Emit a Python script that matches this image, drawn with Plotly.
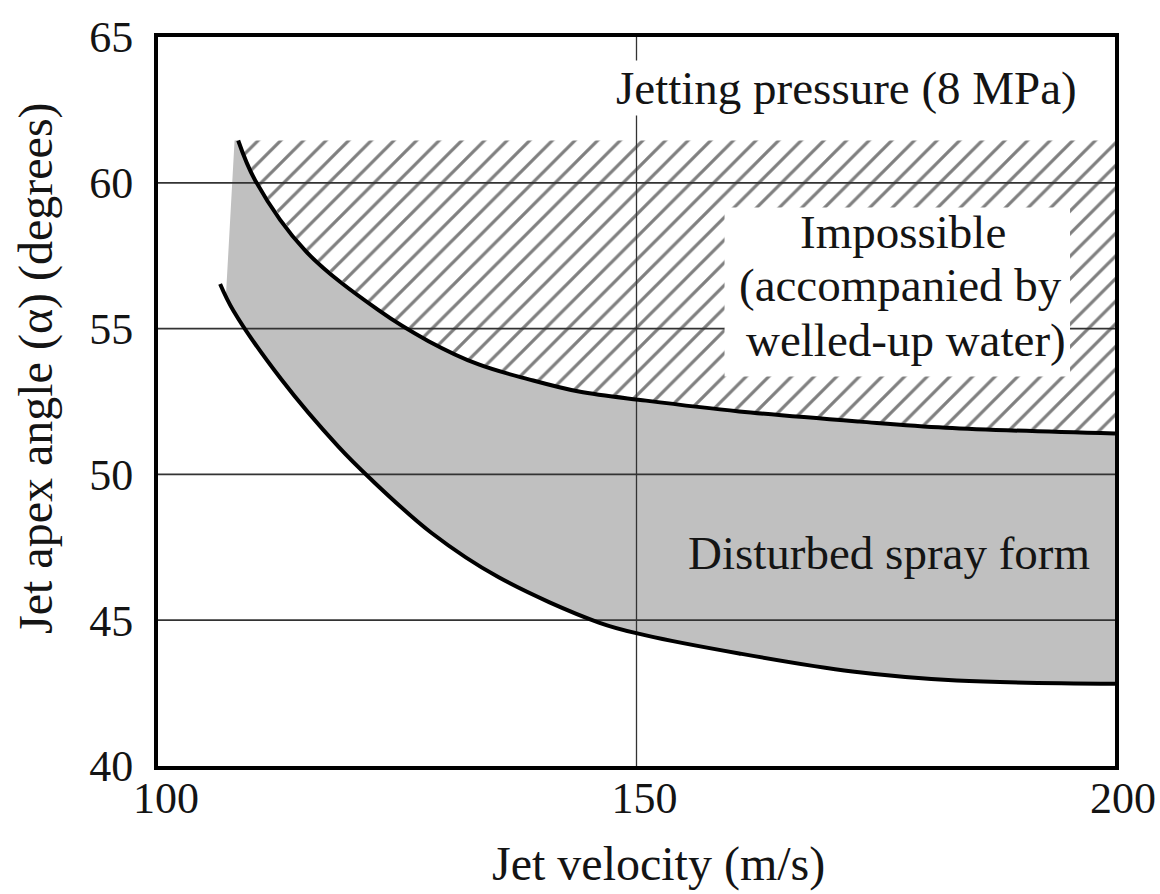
import plotly.graph_objects as go

# ---- data ----
x_ticks = [100, 150, 200]
y_ticks = [40, 45, 50, 55, 60, 65]
grid_y = [45, 50, 55, 60]
grid_x = [150]

# upper boundary (limit of welled-up water)
upper_x = [108.38, 110.16, 115.39, 123.04, 128.27, 133.51, 138.74, 143.98, 150.99, 160.73, 173.30, 182.30, 200.0]
upper_y = [61.45, 60.08, 57.67, 55.63, 54.57, 53.77, 53.26, 52.84, 52.53, 52.16, 51.81, 51.60, 51.40]

# lower boundary (disturbed spray form limit)
lower_x = [106.49, 107.85, 112.88, 118.85, 122.20, 128.59, 135.60, 146.07, 150.99, 160.73, 172.57, 183.46, 200.0]
lower_y = [56.53, 55.63, 53.26, 50.95, 49.85, 47.99, 46.47, 44.92, 44.48, 43.86, 43.24, 42.93, 42.82]

# left edge of the grey band, top of hatched zone
gray_left_x = [108.0, 107.1]
gray_left_y = [61.45, 56.14]
hatch_top = 61.45
x_max = 200.0

# white text box in the hatched zone (x0, x1, y0, y1)
box = [159.2, 195.3, 53.36, 59.15]

FONT = "Liberation Serif, Times New Roman, serif"
TXT = "#141414"
GRID_COLOR = "#333333"

fig = go.Figure()

# grey band
gx = gray_left_x[:1] + upper_x + [x_max] + lower_x[::-1][:-1] + gray_left_x[1:]
gy = gray_left_y[:1] + upper_y + [lower_y[-1]] + lower_y[::-1][:-1] + gray_left_y[1:]
fig.add_trace(go.Scatter(x=gx, y=gy, mode="lines", fill="toself",
                         fillcolor="#c0c0c0", line=dict(width=0, shape="spline", smoothing=0.6),
                         hoverinfo="skip", showlegend=False))

# hatched (impossible) zone
hx = [upper_x[0], x_max, x_max] + upper_x[::-1][1:]
hy = [hatch_top, hatch_top, upper_y[-1]] + upper_y[::-1][1:]
fig.add_trace(go.Scatter(x=hx, y=hy, mode="lines", fill="toself",
                         fillcolor="white",
                         fillpattern=dict(shape="/", fgcolor="black", bgcolor="white",
                                          size=16, solidity=0.2),
                         line=dict(width=0), hoverinfo="skip", showlegend=False))

# grid lines drawn above the fills
for gyv in grid_y:
    fig.add_trace(go.Scatter(x=[x_ticks[0], x_ticks[-1]], y=[gyv, gyv], mode="lines",
                             line=dict(color=GRID_COLOR, width=1.8),
                             hoverinfo="skip", showlegend=False))
for gxv in grid_x:
    fig.add_trace(go.Scatter(x=[gxv, gxv], y=[y_ticks[0], y_ticks[-1]], mode="lines",
                             line=dict(color=GRID_COLOR, width=1.3),
                             hoverinfo="skip", showlegend=False))

# boundary curves
fig.add_trace(go.Scatter(x=upper_x, y=upper_y, mode="lines",
                         line=dict(color="black", width=4, shape="spline", smoothing=1.0),
                         showlegend=False))
fig.add_trace(go.Scatter(x=lower_x, y=lower_y, mode="lines",
                         line=dict(color="black", width=4, shape="spline", smoothing=1.0),
                         showlegend=False))

# white box clearing the hatch behind the label
fig.add_shape(type="rect", xref="x", yref="y", x0=box[0], x1=box[1], y0=box[2], y1=box[3],
              fillcolor="white", line=dict(width=0), layer="above")

tf = dict(family=FONT, size=47, color=TXT)
fig.add_annotation(x=171.9, y=63.24, text="Jetting pressure (8 MPa)", showarrow=False,
                   font=tf, bgcolor="white", xanchor="center", yanchor="middle")
fig.add_annotation(x=177.8, y=58.3, text="Impossible", showarrow=False, font=tf,
                   xanchor="center", yanchor="middle")
fig.add_annotation(x=177.6, y=56.49, text="(accompanied by", showarrow=False, font=tf,
                   xanchor="center", yanchor="middle")
fig.add_annotation(x=178.2, y=54.6, text="welled-up water)", showarrow=False, font=tf,
                   xanchor="center", yanchor="middle")
fig.add_annotation(x=176.4, y=47.3, text="Disturbed spray form", showarrow=False, font=tf,
                   xanchor="center", yanchor="middle")

# axis titles (placed as in the reference)
title_font = dict(family=FONT, size=48, color=TXT)
fig.add_annotation(xref="paper", yref="paper", x=0.5225, y=-0.1344,
                   text="Jet velocity (m/s)", showarrow=False, font=title_font,
                   xanchor="center", yanchor="middle")
fig.add_annotation(xref="paper", yref="paper", x=-0.1275, y=0.546,
                   text="Jet apex angle (\u03b1) (degrees)", showarrow=False, font=title_font,
                   textangle=-90, xanchor="center", yanchor="middle")

axis_common = dict(showgrid=False, zeroline=False, showline=True, mirror=True,
                   linecolor="black", linewidth=4, ticks="", layer="above traces",
                   tickfont=dict(family=FONT, size=44, color=TXT))

fig.update_xaxes(range=[x_ticks[0], x_ticks[-1]], tickvals=x_ticks,
                 ticktext=[str(v) for v in x_ticks], ticklabelstandoff=-10,
                 ticklabelshift=8, **axis_common)
fig.update_yaxes(range=[y_ticks[0], y_ticks[-1]], tickvals=y_ticks,
                 ticktext=[str(v) for v in y_ticks], ticklabelstandoff=12,
                 **axis_common)

fig.update_layout(width=1160, height=894,
                  margin=dict(l=158, r=45, t=37, b=128, autoexpand=False),
                  paper_bgcolor="white", plot_bgcolor="white",
                  showlegend=False)

# remove the page's default body margin so the figure sits at the window origin
fig.write_html("out.html", config={"displayModeBar": False},
               post_script="document.body.style.margin='0px';")
